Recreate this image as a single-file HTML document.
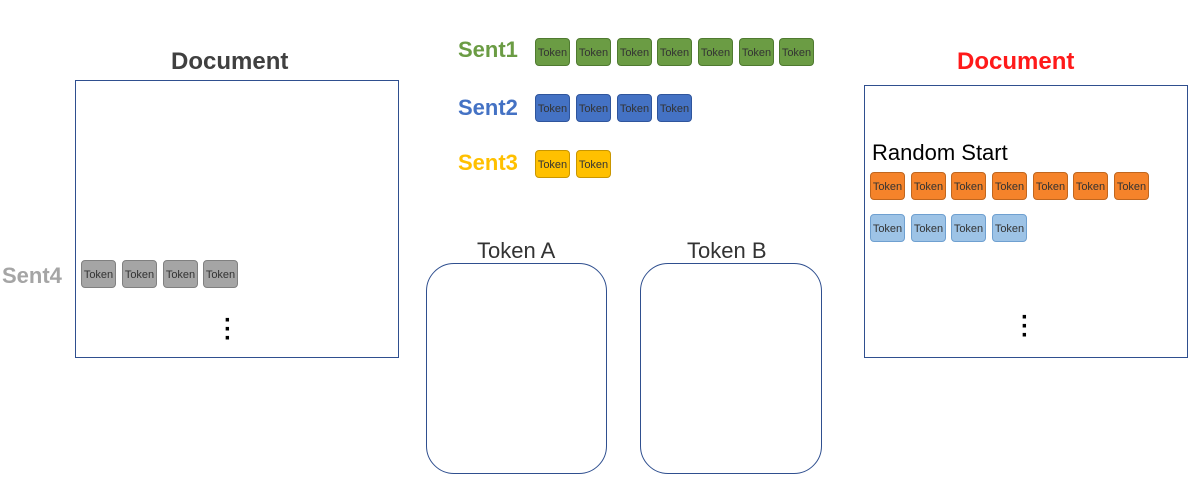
<!DOCTYPE html>
<html><head><style>
body{margin:0;width:1200px;height:482px;background:#fff;position:relative;overflow:hidden;font-family:"Liberation Sans","DejaVu Sans",sans-serif}
.a{position:absolute}
.t{position:absolute;width:35px;height:28px;border-radius:4px;font-size:11px;color:#333;text-align:center;line-height:28px;box-sizing:border-box;border:1px solid}
.g{background:#6b9c44;border-color:#4f7a30}
.b{background:#4472c4;border-color:#2f559c}
.y{background:#ffc000;border-color:#c99600}
.s{background:#a5a5a5;border-color:#808080}
.o{background:#f5832a;border-color:#c0661e}
.l{background:#9dc3e6;border-color:#6fa0d0}
.lab{position:absolute;font-weight:bold;font-size:22px}
.box{position:absolute;border:1.5px solid #2f4f8f;box-sizing:border-box}
.rb{position:absolute;border:1.5px solid #2f4f8f;border-radius:28px;box-sizing:border-box}
.dots{position:absolute;font-size:24px;line-height:9px;font-weight:bold;width:10px;text-align:center}
</style></head><body>
<div class="lab" style="left:171px;top:48px;color:#404040;font-size:24px">Document</div>
<div class="box" style="left:75px;top:80px;width:324px;height:278px"></div>
<div class="lab" style="left:957px;top:48px;color:#ff1a1a;font-size:24px">Document</div>
<div class="box" style="left:864px;top:85px;width:324px;height:273px"></div>
<div class="lab" style="left:458px;top:37px;color:#6b9c44">Sent1</div>
<div class="lab" style="left:458px;top:95px;color:#4472c4">Sent2</div>
<div class="lab" style="left:458px;top:150px;color:#ffc000">Sent3</div>
<div class="lab" style="left:2px;top:263px;color:#a5a5a5">Sent4</div>
<div class="a" style="left:872px;top:140px;font-size:22px;color:#000">Random Start</div>
<div class="a" style="left:477px;top:238px;font-size:22px;color:#333">Token A</div>
<div class="a" style="left:687px;top:238px;font-size:22px;color:#333">Token B</div>
<div class="rb" style="left:426px;top:263px;width:181px;height:211px"></div>
<div class="rb" style="left:640px;top:263px;width:182px;height:211px"></div>
<div class="dots" style="left:223px;top:316px">·<br>·<br>·</div>
<div class="dots" style="left:1020px;top:313px">·<br>·<br>·</div>
<div class="t g" style="left:535px;top:38px">Token</div><div class="t g" style="left:576px;top:38px">Token</div><div class="t g" style="left:617px;top:38px">Token</div><div class="t g" style="left:657px;top:38px">Token</div><div class="t g" style="left:698px;top:38px">Token</div><div class="t g" style="left:739px;top:38px">Token</div><div class="t g" style="left:779px;top:38px">Token</div>
<div class="t b" style="left:535px;top:94px">Token</div><div class="t b" style="left:576px;top:94px">Token</div><div class="t b" style="left:617px;top:94px">Token</div><div class="t b" style="left:657px;top:94px">Token</div>
<div class="t y" style="left:535px;top:150px">Token</div><div class="t y" style="left:576px;top:150px">Token</div>
<div class="t s" style="left:81px;top:260px">Token</div><div class="t s" style="left:122px;top:260px">Token</div><div class="t s" style="left:163px;top:260px">Token</div><div class="t s" style="left:203px;top:260px">Token</div>
<div class="t o" style="left:870px;top:172px">Token</div><div class="t o" style="left:911px;top:172px">Token</div><div class="t o" style="left:951px;top:172px">Token</div><div class="t o" style="left:992px;top:172px">Token</div><div class="t o" style="left:1033px;top:172px">Token</div><div class="t o" style="left:1073px;top:172px">Token</div><div class="t o" style="left:1114px;top:172px">Token</div>
<div class="t l" style="left:870px;top:214px">Token</div><div class="t l" style="left:911px;top:214px">Token</div><div class="t l" style="left:951px;top:214px">Token</div><div class="t l" style="left:992px;top:214px">Token</div>
</body></html>
